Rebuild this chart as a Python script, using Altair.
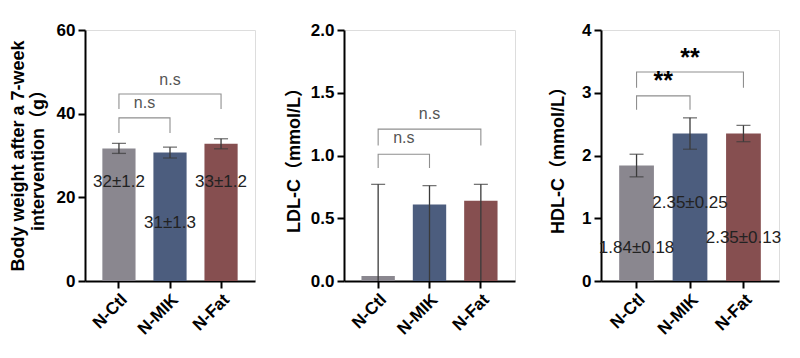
import altair as alt
import pandas as pd

groups = ["N-Ctl", "N-MIK", "N-Fat"]
colors = ["#8a878f", "#4c5d7e", "#864f50"]

# Panel 1: body weight
bw_mean = [31.7, 30.7, 32.8]
bw_sd = [1.2, 1.3, 1.2]
bw_labels = ["32±1.2", "31±1.3", "33±1.2"]
bw_label_y = [23.7, 13.9, 23.7]

# Panel 2: LDL-C
ldl_mean = [0.04, 0.61, 0.64]
ldl_low = [0.0, 0.0, 0.0]
ldl_high = [0.77, 0.76, 0.77]

# Panel 3: HDL-C
hdl_mean = [1.84, 2.35, 2.35]
hdl_sd = [0.18, 0.25, 0.13]
hdl_labels = ["1.84±0.18", "2.35±0.25", "2.35±0.13"]
hdl_label_y = [0.53, 1.24, 0.68]

# significance brackets: (from, to, top, end)
bw_brackets = [("N-Ctl", "N-Fat", 44.7, 41.1), ("N-Ctl", "N-MIK", 39.0, 35.4)]
bw_sig = ["n.s", "n.s"]
bw_sig_y = [48.0, 42.5]
ldl_brackets = [("N-Ctl", "N-Fat", 1.21, 1.08), ("N-Ctl", "N-MIK", 1.01, 0.90)]
ldl_sig = ["n.s", "n.s"]
ldl_sig_y = [1.33, 1.14]
hdl_brackets = [("N-Ctl", "N-Fat", 3.33, 3.08), ("N-Ctl", "N-MIK", 2.95, 2.73)]
hdl_sig = ["**", "**"]
hdl_sig_y = [3.55, 3.19]

FONT = "Liberation Sans, Arial, Noto Sans CJK SC, sans-serif"


def panel(mean, low, high, ymax, ticks, fmt, title, title_pad, labels, label_y,
          brackets, sig, sig_y, sig_bold, low_caps, width):
    df = pd.DataFrame({"g": groups, "m": mean, "lo": low, "hi": high, "c": colors})
    xenc = alt.X("g:N", sort=groups, title=None,
                 scale=alt.Scale(paddingInner=0.35, paddingOuter=0.34),
                 axis=alt.Axis(labelAngle=-45, labelFontSize=17, labelFontWeight="bold",
                               labelColor="black", labelFont=FONT, domainColor="black",
                               domainWidth=2, tickColor="black", tickWidth=2, tickSize=7,
                               labelPadding=3))
    yscale = alt.Scale(domain=[0, ymax], nice=False)
    yax = alt.Axis(values=ticks, format=fmt, grid=False, labelFontSize=17,
                   labelFontWeight="bold", labelColor="black", labelFont=FONT,
                   domainColor="black", domainWidth=2, tickColor="black", tickWidth=2,
                   tickSize=7, titleFontSize=18, titleFontWeight="bold", titleColor="black",
                   titleFont=FONT, titlePadding=title_pad, labelPadding=3,
                   titleLineHeight=20)
    base = alt.Chart(df)
    bars = base.mark_bar().encode(
        x=xenc, y=alt.Y("m:Q", scale=yscale, axis=yax, title=title),
        color=alt.Color("c:N", scale=None))
    err = base.mark_rule(color="#3a3a3a", strokeWidth=1.3).encode(
        x=alt.X("g:N", sort=groups), y="lo:Q", y2="hi:Q")
    cap_hi = base.mark_tick(color="#3a3a3a", size=14, thickness=1.3).encode(
        x=alt.X("g:N", sort=groups), y="hi:Q")
    layers = [bars, err, cap_hi]
    if low_caps:
        layers.append(base.mark_tick(color="#3a3a3a", size=14, thickness=1.3).encode(
            x=alt.X("g:N", sort=groups), y="lo:Q"))
    if labels:
        ldf = pd.DataFrame({"g": groups, "t": labels, "y": label_y})
        layers.append(alt.Chart(ldf).mark_text(fontSize=17, color="#222222", font=FONT,
                                               baseline="middle").encode(
            x=alt.X("g:N", sort=groups), y="y:Q", text="t:N"))
    rows = []
    for i, (a, b, top, end) in enumerate(brackets):
        rows += [{"k": i, "o": 0, "g": a, "y": end}, {"k": i, "o": 1, "g": a, "y": top},
                 {"k": i, "o": 2, "g": b, "y": top}, {"k": i, "o": 3, "g": b, "y": end}]
    bdf = pd.DataFrame(rows)
    layers.append(alt.Chart(bdf).mark_line(color="#8f8f8f", strokeWidth=1.1).encode(
        x=alt.X("g:N", sort=groups), y="y:Q", detail="k:N", order="o:Q"))
    step = width / (3 - 0.35 + 2 * 0.34)
    sdf_top = pd.DataFrame({"g": ["N-MIK"], "t": [sig[0]], "y": [sig_y[0]]})
    sdf_low = pd.DataFrame({"g": ["N-Ctl"], "t": [sig[1]], "y": [sig_y[1]]})
    tcolor = "black" if sig_bold else "#555555"
    tsize = 25 if sig_bold else 16
    tweight = "bold" if sig_bold else "normal"
    layers.append(alt.Chart(sdf_top).mark_text(fontSize=tsize, color=tcolor, font=FONT,
                                               fontWeight=tweight, baseline="middle").encode(
        x=alt.X("g:N", sort=groups), y="y:Q", text="t:N"))
    layers.append(alt.Chart(sdf_low).mark_text(fontSize=tsize, color=tcolor, font=FONT,
                                               fontWeight=tweight, baseline="middle",
                                               dx=step / 2).encode(
        x=alt.X("g:N", sort=groups), y="y:Q", text="t:N"))
    return alt.layer(*layers).properties(width=width, height=251)


p1 = panel(bw_mean, [m - s for m, s in zip(bw_mean, bw_sd)],
           [m + s for m, s in zip(bw_mean, bw_sd)], 60, [0, 20, 40, 60], "d",
           ["Body weight after a 7-week", "intervention（g）"], 9, bw_labels, bw_label_y,
           bw_brackets, bw_sig, bw_sig_y, False, True, 170)
p2 = panel(ldl_mean, ldl_low, ldl_high, 2.0, [0, 0.5, 1.0, 1.5, 2.0], ".1f",
           "LDL-C（mmol/L）", 7, None, None, ldl_brackets, ldl_sig, ldl_sig_y, False, False, 171)
p3 = panel(hdl_mean, [m - s for m, s in zip(hdl_mean, hdl_sd)],
           [m + s for m, s in zip(hdl_mean, hdl_sd)], 4, [0, 1, 2, 3, 4], "d",
           "HDL-C（mmol/L）", 14, hdl_labels, hdl_label_y, hdl_brackets, hdl_sig, hdl_sig_y,
           True, True, 178)

chart = alt.hconcat(alt.hconcat(p1, p2, spacing=28), p3, spacing=33).configure_view(
    stroke=None).configure(background="white",
                           padding={"left": 0, "top": 12, "right": 0, "bottom": 0})
chart.save("out.html", embed_options={"renderer": "svg", "actions": False})
